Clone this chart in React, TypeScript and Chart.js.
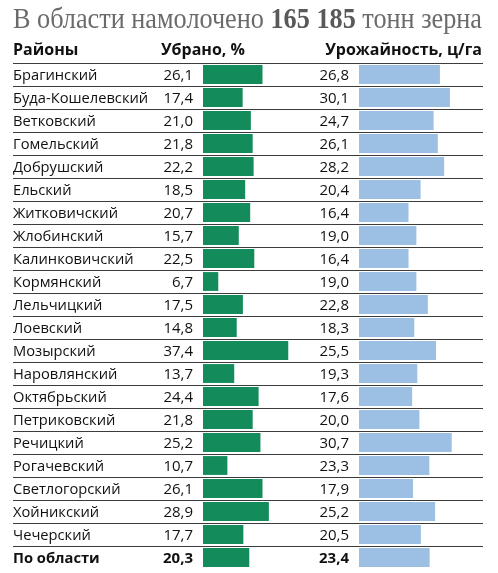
import React, { useEffect, useRef } from "react";
import { Chart, registerables } from "chart.js";

Chart.register(...registerables);

// Gomel region grain harvest by district
const districts = [
  "Брагинский",
  "Буда-Кошелевский",
  "Ветковский",
  "Гомельский",
  "Добрушский",
  "Ельский",
  "Житковичский",
  "Жлобинский",
  "Калинковичский",
  "Кормянский",
  "Лельчицкий",
  "Лоевский",
  "Мозырский",
  "Наровлянский",
  "Октябрьский",
  "Петриковский",
  "Речицкий",
  "Рогачевский",
  "Светлогорский",
  "Хойникский",
  "Чечерский",
  "По области",
];

// share of area harvested, %
const harvested = [
  26.1, 17.4, 21.0, 21.8, 22.2, 18.5, 20.7, 15.7, 22.5, 6.7, 17.5, 14.8, 37.4,
  13.7, 24.4, 21.8, 25.2, 10.7, 26.1, 28.9, 17.7, 20.3,
];

// yield, centners per hectare
const yieldPerHa = [
  26.8, 30.1, 24.7, 26.1, 28.2, 20.4, 16.4, 19.0, 16.4, 19.0, 22.8, 18.3, 25.5,
  19.3, 17.6, 20.0, 30.7, 23.3, 17.9, 25.2, 20.5, 23.4,
];

const titleParts = ["В области намолочено ", "165 185", " тонн зерна"];
const headers = ["Районы", "Убрано, %", "Урожайность, ц/га"];

const W = 498;
const H = 573;
const LEFT = 13;
const RIGHT = 482;
const GREEN = "#148b5b";
const BLUE = "#9cc0e4";
const SANS = "'Open Sans', 'Noto Sans', sans-serif";
const SERIF = "'Liberation Serif', 'DejaVu Serif', serif";

const fmt = (v: number) => v.toFixed(1).replace(".", ",");

const tablePlugin = {
  id: "tableText",
  beforeDatasetsDraw(chart: any) {
    const ctx: CanvasRenderingContext2D = chart.ctx;
    const y = chart.scales.y;
    const half = (y.getPixelForValue(1) - y.getPixelForValue(0)) / 2;
    ctx.save();
    ctx.strokeStyle = "#3c3c3c";
    ctx.lineWidth = 1;
    for (let i = 0; i < districts.length; i++) {
      const top = Math.round(y.getPixelForValue(i) - half) + 0.5;
      ctx.beginPath();
      ctx.moveTo(LEFT, top);
      ctx.lineTo(RIGHT + 1, top);
      ctx.stroke();
    }
    ctx.restore();
  },
  afterDatasetsDraw(chart: any) {
    const ctx: CanvasRenderingContext2D = chart.ctx;
    const y = chart.scales.y;
    const xG = chart.scales.xG;
    const xB = chart.scales.xB;
    ctx.save();

    // title, fitted to the table width
    const fonts = [
      `28.5px ${SERIF}`,
      `bold 28.5px ${SERIF}`,
      `28.5px ${SERIF}`,
    ];
    const colors = ["#6b6b6b", "#595959", "#6b6b6b"];
    let total = 0;
    const widths = titleParts.map((t, i) => {
      ctx.font = fonts[i];
      const w = ctx.measureText(t).width;
      total += w;
      return w;
    });
    const sx = (RIGHT - LEFT) / total;
    ctx.save();
    ctx.translate(LEFT, 28);
    ctx.scale(sx, 1);
    ctx.textBaseline = "alphabetic";
    let cx = 0;
    titleParts.forEach((t, i) => {
      ctx.font = fonts[i];
      ctx.fillStyle = colors[i];
      ctx.textAlign = "left";
      ctx.fillText(t, cx, 0);
      cx += widths[i];
    });
    ctx.restore();

    // column headers
    ctx.fillStyle = "#111";
    ctx.font = `bold 16px ${SANS}`;
    ctx.textBaseline = "alphabetic";
    ctx.textAlign = "left";
    ctx.fillText(headers[0], LEFT, 55);
    ctx.fillText(headers[1], 161, 55);
    ctx.textAlign = "right";
    ctx.fillText(headers[2], RIGHT, 55);

    // rows
    const greenRight = xG.getPixelForValue(0) - 10;
    const blueRight = xB.getPixelForValue(0) - 10;
    districts.forEach((name, i) => {
      const cy = y.getPixelForValue(i) + 5.5;
      const last = i === districts.length - 1;
      const weight = last ? "bold " : "";
      ctx.fillStyle = "#111";
      ctx.textAlign = "left";
      ctx.font = `${weight}14.7px ${SANS}`;
      ctx.fillText(name, LEFT, cy);
      ctx.textAlign = "right";
      ctx.font = `${weight}15px ${SANS}`;
      ctx.fillText(fmt(harvested[i]), greenRight, cy);
      ctx.fillText(fmt(yieldPerHa[i]), blueRight, cy);
    });
    ctx.restore();
  },
};

export default function App() {
  const ref = useRef<HTMLCanvasElement>(null);

  useEffect(() => {
    if (!ref.current) return;
    const chart = new Chart(ref.current, {
      type: "bar",
      data: {
        labels: districts,
        datasets: [
          {
            label: "Убрано, %",
            data: harvested,
            xAxisID: "xG",
            backgroundColor: GREEN,
            grouped: false,
            categoryPercentage: 1,
            barPercentage: 0.82,
          } as any,
          {
            label: "Урожайность, ц/га",
            data: yieldPerHa,
            xAxisID: "xB",
            backgroundColor: BLUE,
            grouped: false,
            categoryPercentage: 1,
            barPercentage: 0.82,
          } as any,
        ],
      },
      options: {
        indexAxis: "y",
        responsive: false,
        animation: false,
        devicePixelRatio: 1,
        layout: { padding: { left: 203, right: W - RIGHT, top: 63, bottom: 4 } },
        plugins: {
          legend: { display: false },
          tooltip: { enabled: false },
        },
        scales: {
          y: { type: "category", display: false, offset: true },
          xG: {
            type: "linear",
            position: "bottom",
            display: false,
            min: 0,
            max: 122.4,
          },
          xB: {
            type: "linear",
            position: "bottom",
            display: false,
            min: -51.66,
            max: 40.73,
          },
        },
      },
      plugins: [tablePlugin],
    });
    return () => chart.destroy();
  }, []);

  return (
    <div
      style={{
        position: "fixed",
        left: 0,
        top: 0,
        width: W,
        height: H,
        background: "#fff",
      }}
    >
      <canvas ref={ref} width={W} height={H} style={{ display: "block" }} />
    </div>
  );
}
